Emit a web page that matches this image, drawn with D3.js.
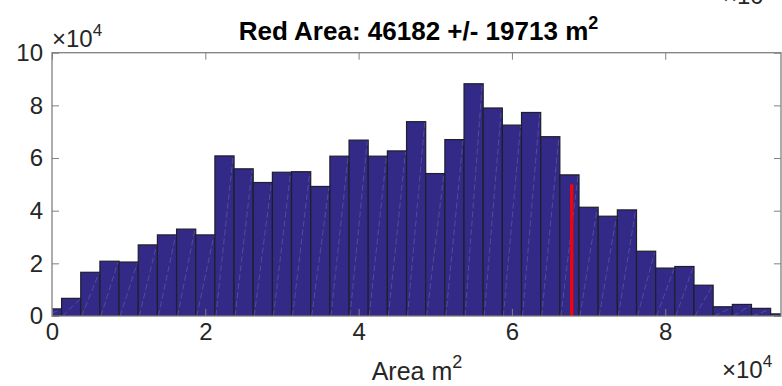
<!DOCTYPE html>
<html><head><meta charset="utf-8">
<script src="https://cdn.jsdelivr.net/npm/d3@7/dist/d3.min.js"></script>
<style>body{margin:0;background:#fff}svg{display:block}text{font-family:"Liberation Sans",Arial,sans-serif}</style>
</head><body>
<svg id="c" width="782" height="386"></svg>
<script>
// Data (x in m^2, counts in units of 1e4)
const binCenters = [0,2500,5000,7500,10000,12500,15000,17500,20000,22500,25000,27500,30000,32500,35000,37500,40000,42500,45000,47500,50000,52500,55000,57500,60000,62500,65000,67500,70000,72500,75000,77500,80000,82500,85000,87500,90000,92500,95000];
const counts = [0.27,0.67,1.66,2.08,2.05,2.70,3.08,3.30,3.08,6.08,5.59,5.07,5.46,5.48,4.92,6.07,6.68,6.07,6.27,7.38,5.41,6.70,8.82,7.90,7.25,7.73,6.81,5.36,4.13,3.79,4.03,2.46,1.82,1.88,1.17,0.35,0.44,0.29,0.08];
const binWidth = 2500;
const redX = 67800, redH = 5.0;
const xTicks = [0,20000,40000,60000,80000];
const yTicks = [0,2,4,6,8,10];
const titleText = "Red Area: 46182 +/- 19713 m";

const svg = d3.select("#c");
const L=52, R=781, T=52.7, B=316;
const x = d3.scaleLinear().domain([0,95100]).range([L,R]);
const y = d3.scaleLinear().domain([0,10]).range([B,T]);

svg.append("clipPath").attr("id","clp").append("rect").attr("x",L).attr("y",T).attr("width",R-L).attr("height",B-T);
const g = svg.append("g").attr("clip-path","url(#clp)");
const data = binCenters.map((c,i)=>({c,v:counts[i]}));
g.selectAll("rect.bar").data(data).join("rect").attr("class","bar")
  .attr("x",d=>x(d.c-binWidth/2)).attr("width",d=>x(d.c+binWidth/2)-x(d.c-binWidth/2))
  .attr("y",d=>y(d.v)).attr("height",d=>y(0)-y(d.v))
  .attr("fill","#332a88").attr("stroke","#1f1f2a").attr("stroke-width",1.2);
g.selectAll("line.diag").data(data).join("line").attr("class","diag")
  .attr("x1",d=>x(d.c-binWidth/2)+1).attr("y1",y(0))
  .attr("x2",d=>x(d.c+binWidth/2)-1).attr("y2",d=>y(d.v)+1)
  .attr("stroke","#8a86c0").attr("stroke-width",0.8).attr("stroke-dasharray","6,3").attr("opacity",0.45);
g.append("line").attr("x1",x(redX)).attr("x2",x(redX)).attr("y1",y(0)).attr("y2",y(redH))
  .attr("stroke","#ff0000").attr("stroke-width",3.2);

// axes
const axCol="#808080", txtCol="#262626", fs=24;
function style(sel){sel.select(".domain").remove();sel.selectAll(".tick line").attr("stroke",axCol);sel.selectAll("text").attr("fill",txtCol).attr("font-size",fs).attr("font-family","Liberation Sans, Arial, sans-serif");}
svg.append("g").attr("transform",`translate(0,${B})`).call(d3.axisBottom(x).tickValues(xTicks).tickFormat(d=>d/1e4).tickSizeInner(-7).tickSizeOuter(0).tickPadding(7)).call(style);
svg.append("g").attr("transform",`translate(0,${T})`).call(d3.axisTop(x).tickValues(xTicks).tickFormat("").tickSizeInner(-7).tickSizeOuter(0)).call(style);
svg.append("g").attr("transform",`translate(${L},0)`).call(d3.axisLeft(y).tickValues(yTicks).tickFormat(d=>d).tickSizeInner(-7).tickSizeOuter(0).tickPadding(9)).call(style);
svg.append("g").attr("transform",`translate(${R},0)`).call(d3.axisRight(y).tickValues(yTicks).tickFormat("").tickSizeInner(-7).tickSizeOuter(0)).call(style);
svg.append("rect").attr("x",L).attr("y",T).attr("width",R-L).attr("height",B-T).attr("fill","none").attr("stroke",axCol).attr("stroke-width",1.3);

// title
const t = svg.append("text").attr("x",(L+R)/2+2).attr("y",40).attr("text-anchor","middle").attr("font-size",26).attr("font-weight","bold").attr("fill","#000");
t.append("tspan").text(titleText);
t.append("tspan").attr("dy",-11).attr("font-size",18).text("2");

// x label
const xl = svg.append("text").attr("x",417).attr("y",380).attr("text-anchor","middle").attr("font-size",25).attr("fill",txtCol);
xl.append("tspan").text("Area m");
xl.append("tspan").attr("dy",-12).attr("font-size",18).text("2");

// exponent labels
function expo(xp,yp,anchor,sup){const e=svg.append("text").attr("x",xp).attr("y",yp).attr("text-anchor",anchor).attr("font-size",24).attr("fill",txtCol);e.append("tspan").text("\u00d710");if(sup){e.append("tspan").attr("dy",-11).attr("font-size",17).text("4");}return e;}
expo(52,47,"start",true);
expo(722,378,"start",true);
expo(723,4,"start",false);
</script>
</body></html>
